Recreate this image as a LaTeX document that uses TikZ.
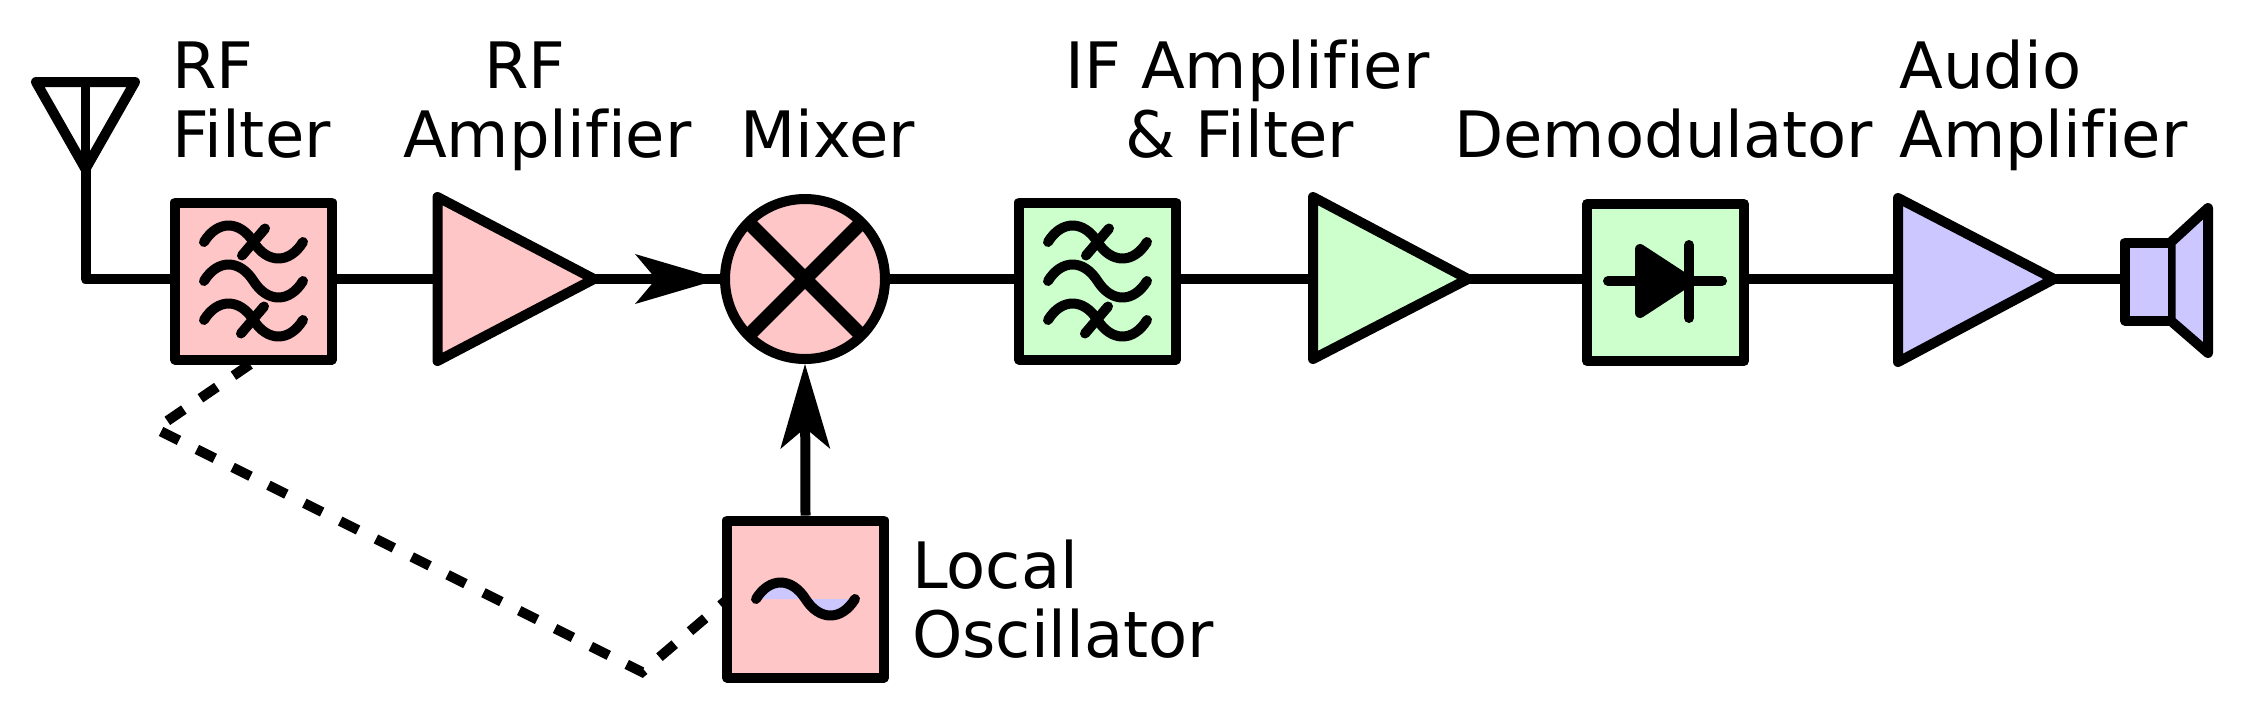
\documentclass[tikz,border=0pt]{standalone}
\usepackage{fontspec}
\setmainfont{DejaVu Sans}[Ligatures=NoCommon]
\usetikzlibrary{arrows.meta}
\definecolor{rfpink}{HTML}{FFC6C8}
\definecolor{ifgreen}{HTML}{CCFFCC}
\definecolor{aflav}{HTML}{CCC8FF}
\tikzset{
  sig/.style={line width=10pt,line join=round,line cap=round},
  conn/.style={line width=10pt,line join=round},
  blockbox/.style={draw,line width=10pt,rectangle,minimum width=157pt,minimum height=157pt,inner sep=0pt,line join=round},
  amp/.style={draw,line width=10pt,line join=round},
  lbl/.style={font=\fontsize{64}{68.3}\selectfont,align=left,inner sep=0pt,anchor=base west},
  feed/.style={conn,-{Stealth[length=85pt,width=50pt,inset=21pt,line width=0pt]}},
  tune/.style={line width=10pt,line cap=butt,line join=miter,dash pattern=on 20pt off 20.05pt},
  sinewave/.pic={\draw[pic actions,sig] (-49.5,0) .. controls (-36,-22) and (-14,-22) .. (0,0) .. controls (14,22) and (36,22) .. (49.5,0);},
  slash/.pic={\draw[sig] (-11.5,13.5) -- (11.5,-13.5);}
}
\begin{document}
\begin{tikzpicture}[x=1pt,y=-1pt]
\useasboundingbox (0,0) rectangle (2243,713);
% coordinates
\coordinate (antL) at (36,82);
\coordinate (antR) at (135,82);
\coordinate (antApex) at (85.5,169);
\coordinate (antTop) at (85.5,82);
\coordinate (antFoot) at (85.5,279);
\coordinate (amp1in) at (437.5,279);
\coordinate (amp1t) at (437.5,197);
\coordinate (amp1b) at (437.5,361);
\coordinate (amp1out) at (594,279);
\coordinate (amp2in) at (1313,279);
\coordinate (amp2t) at (1313,197);
\coordinate (amp2b) at (1313,359);
\coordinate (amp2out) at (1468,279);
\coordinate (amp3in) at (1898,279);
\coordinate (amp3t) at (1898,198);
\coordinate (amp3b) at (1898,362);
\coordinate (amp3out) at (2054,279);
\coordinate (spk) at (2125,279);
\coordinate (dashA) at (250,364.4);
\coordinate (dashB) at (155.7,428.8);
\coordinate (dashC) at (642,672);
\coordinate (dashD) at (726,600.6);
% wires behind the blocks
\draw[tune] (dashA) -- (dashB) -- (dashC) -- (dashD);
\draw[sig] (antApex) -- (antFoot) -- (amp1in);
\draw[conn] (amp1in) -- (amp2in);
\draw[conn] (amp2in) -- (amp3in);
\draw[conn] (amp3in) -- (spk);
% antenna
\draw[line width=9pt] (antTop) -- (antApex);
\draw[sig] (antL) -- (antR) -- (antApex) -- cycle;
% blocks
\node[blockbox,fill=rfpink] (rff) at (253.5,281) {};
\node[blockbox,fill=ifgreen] (iff) at (1097.5,281) {};
\node[blockbox,fill=ifgreen] (dem) at (1665.5,282.5) {};
\node[blockbox,fill=rfpink] (lo) at (805.5,599) {};
\node[draw,circle,line width=10pt,fill=rfpink,minimum size=160pt,inner sep=0pt] (mix) at (805,279) {};
% amplifiers
\draw[amp,fill=rfpink] (amp1t) -- (amp1out) -- (amp1b) -- cycle;
\draw[amp,fill=ifgreen] (amp2t) -- (amp2out) -- (amp2b) -- cycle;
\draw[amp,fill=aflav] (amp3t) -- (amp3out) -- (amp3b) -- cycle;
% mixer internals and arrows
\draw[line width=14pt,shorten <=4pt,shorten >=4pt] (mix.45) -- (mix.225);
\draw[line width=14pt,shorten <=4pt,shorten >=4pt] (mix.135) -- (mix.315);
\draw[feed] (amp1out) -- (mix.west);
\draw[feed] (lo.north) -- (mix.south);
% filter symbols
\foreach \b in {rff,iff}{
  \pic at ([yshift=39pt]\b.center) {sinewave};
  \pic at (\b.center) {sinewave};
  \pic at ([yshift=-39pt]\b.center) {sinewave};
  \pic at ([yshift=39pt]\b.center) {slash};
  \pic at ([yshift=-39pt,xshift=-1pt]\b.center) {slash};
}
% oscillator symbol
\pic[fill=aflav] at (lo.center) {sinewave};
% diode
\coordinate (dA) at (1640,249);
\coordinate (dB) at (1640,313);
\coordinate (dC) at (1689,281);
\coordinate (dT) at (1689,245);
\coordinate (dBt) at (1689,318);
\coordinate (dL) at (1608,281);
\coordinate (dR) at (1722,281);
\draw[sig] (dL) -- (dR);
\draw[sig,fill=black] (dA) -- (dC) -- (dB) -- cycle;
\draw[sig] (dT) -- (dBt);
% speaker
\coordinate (s1) at (2125,242.5);
\coordinate (s2) at (2170.5,242.5);
\coordinate (s3) at (2170.5,320.5);
\coordinate (s4) at (2125,320.5);
\coordinate (s5) at (2208,208);
\coordinate (s6) at (2208,353);
\draw[amp,fill=aflav] (s2) -- (s5) -- (s6) -- (s3) -- cycle;
\fill[aflav] (s1) -- (s2) -- (s3) -- (s4) -- cycle;
\draw[amp] (s2) -- (s1) -- (s4) -- (s3);
\draw[line width=4.5pt] (s2) -- (s3);
% labels
\node[lbl] (t1) at (172,157) {RF\\Filter};
\node[lbl] (t2) at (403,157) {\hspace*{81pt}RF\\Amplifier};
\node[lbl] (t3) at (740,157) {Mixer};
\node[lbl] (t4) at (1065,157) {IF Amplifier\\\hspace*{60pt}\& Filter};
\node[lbl] (t5) at (1454,157) {Demodulator};
\node[lbl] (t6) at (1899,157) {Audio\\Amplifier};
\node[lbl] (t7) at (912,657) {Local\\Oscillator};
\end{tikzpicture}
\end{document}
